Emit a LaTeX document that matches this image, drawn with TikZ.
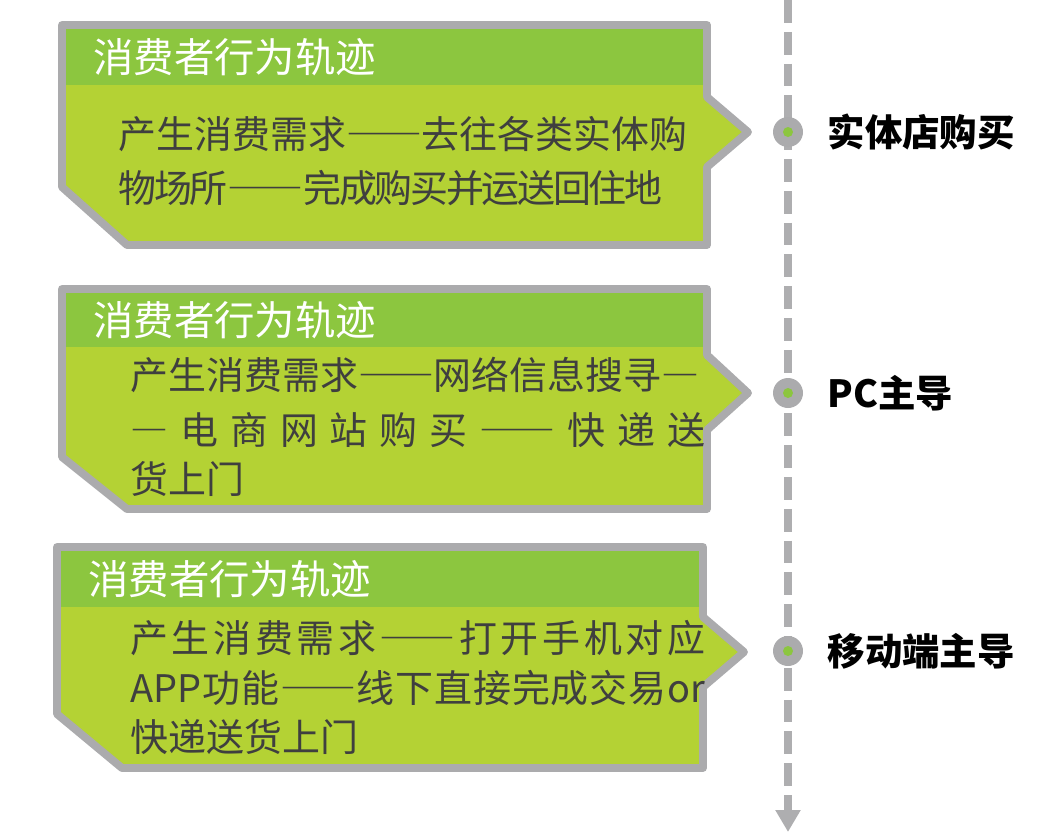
\documentclass[tikz,border=0pt]{standalone}
\usepackage{fontspec}
\usetikzlibrary{arrows.meta,positioning}
\newfontfamily\cjk{Noto Sans CJK SC}
\newcommand{\wdash}[1]{{\addfontfeatures{RawFeature=+fwid}#1}}
\definecolor{frame}{HTML}{ABABAD}
\definecolor{band}{HTML}{8CC63F}
\definecolor{cardlime}{HTML}{B4D234}
\definecolor{ink}{HTML}{3F3F3F}
\definecolor{rail}{HTML}{AEAEB0}

\tikzset{
  card/.style={draw=frame,fill=cardlime,line width=4.5pt,line join=round},
  headline/.style={anchor=west,inner sep=0pt,text=white,font=\cjk\fontsize{23pt}{27pt}\selectfont},
  bodyline/.style={anchor=west,inner sep=0pt,text=ink,font=\cjk\fontsize{21.6pt}{26pt}\selectfont},
  stage/.style={inner sep=0pt,font=\cjk\bfseries\fontsize{21.3pt}{26pt}\selectfont},
  dot/.style={circle,fill=frame,minimum size=0.6cm,inner sep=0pt},
  core/.style={circle,fill=band,minimum size=0.2cm,inner sep=0pt}
}

\begin{document}
\begin{tikzpicture}[x=0.02cm,y=-0.02cm]
  \useasboundingbox (0,0) rectangle (1052,839);

  % Timeline
  \coordinate (railtop) at (788,0);
  \coordinate (railend) at (788,832);
  \draw[rail,line width=4pt,dash pattern=on 13pt off 5.1pt,
        -{Triangle[width=13.6pt,length=12.5pt]}] (railtop) -- (railend);

  % Card 1 = offline store
  \draw[card] (62,25) -- (707,25) -- (707,97) -- (748,132) -- (707,167)
    -- (707,245) -- (127,245) -- (62,187) -- cycle;
  \fill[band] (66,29) rectangle (703,85);
  \node[headline] (title1) at (93,57) {消费者行为轨迹};
  \node[bodyline] (body1a) at (118,134) {产生消费需求\wdash{——}去往各类实体购};
  \node[bodyline] (body1b) at (118,188) {\addfontfeatures{LetterSpace=-6}物场所\wdash{——}完成购买并运送回住地};

  % Card 2 = PC
  \draw[card] (62,289) -- (707,289) -- (707,355) -- (748,393) -- (707,430)
    -- (707,509) -- (127,509) -- (62,457) -- cycle;
  \fill[band] (66,293) rectangle (703,347);
  \node[headline] (title2) at (93,320) {消费者行为轨迹};
  \node[bodyline] (body2a) at (130,375) {产生消费需求\wdash{——}网络信息搜寻\wdash{—}};
  \node[bodyline] (body2b) at (130,430) {\makebox[11.5cm][s]{\wdash{—}\hfil 电\hfil 商\hfil 网\hfil 站\hfil 购\hfil 买\hfil \wdash{——}\hfil 快\hfil 递\hfil 送}};
  \node[bodyline] (body2c) at (130,479) {货上门};

  % Card 3 = mobile
  \draw[card] (57,547) -- (703,547) -- (703,617) -- (744,652) -- (703,687)
    -- (703,768) -- (122,768) -- (57,714) -- cycle;
  \fill[band] (61,551) rectangle (699,607);
  \node[headline] (title3) at (88,579) {消费者行为轨迹};
  \node[bodyline] (body3a) at (130,638) {\makebox[11.5cm][s]{产\hfil 生\hfil 消\hfil 费\hfil 需\hfil 求\hfil \wdash{——}\hfil 打\hfil 开\hfil 手\hfil 机\hfil 对\hfil 应}};
  \node[bodyline] (body3b) at (130,688) {\makebox[11.5cm][s]{APP\hfil 功\hfil 能\hfil \wdash{——}\hfil 线\hfil 下\hfil 直\hfil 接\hfil 完\hfil 成\hfil 交\hfil 易\hfil or}};
  \node[bodyline] (body3c) at (130,737) {快递送货上门};

  % Stages on the timeline
  \node[dot] (dot1) at (788,132) {};
  \node[core] (core1) at (dot1) {};
  \node[stage,right=0.48cm of dot1] (stage1) {实体店购买};

  \node[dot] (dot2) at (788,393) {};
  \node[core] (core2) at (dot2) {};
  \node[stage,right=0.48cm of dot2] (stage2) {PC主导};

  \node[dot] (dot3) at (788,651) {};
  \node[core] (core3) at (dot3) {};
  \node[stage,right=0.48cm of dot3] (stage3) {移动端主导};
\end{tikzpicture}
\end{document}
